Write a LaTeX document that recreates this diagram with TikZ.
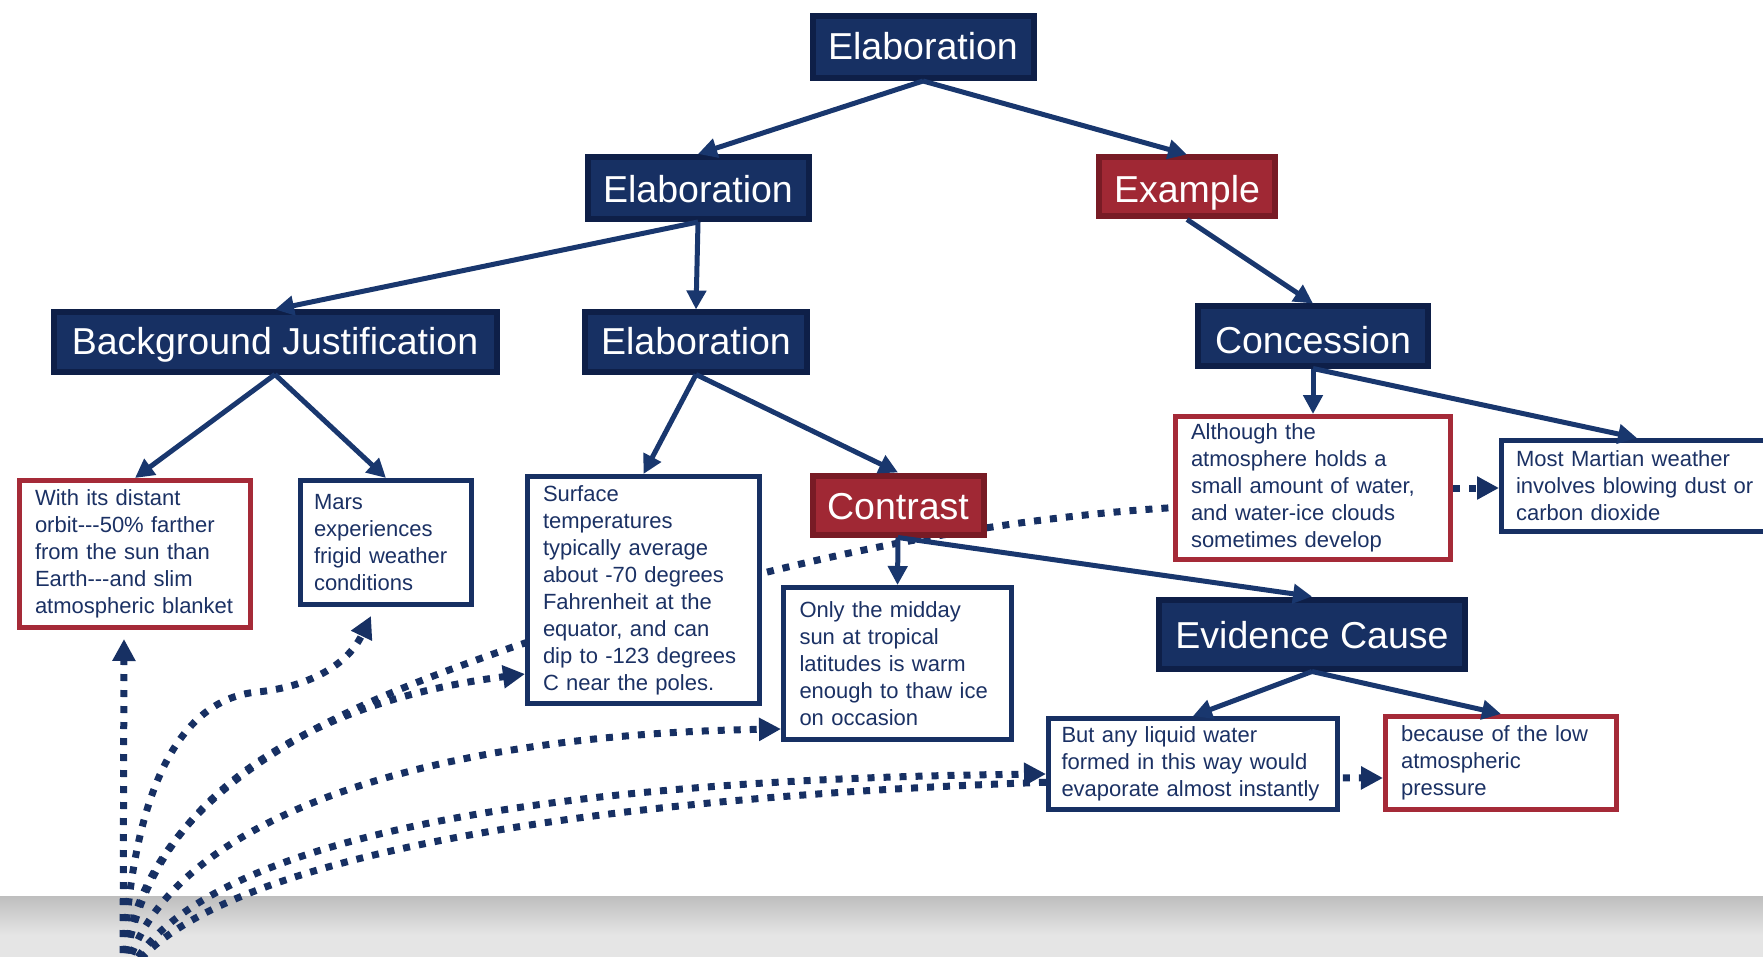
\documentclass[tikz,border=0pt]{standalone}
\usepackage{fontspec}
\setmainfont{Liberation Sans}
\usetikzlibrary{arrows.meta,calc}
\definecolor{navy}{RGB}{23,48,99}
\definecolor{navydk}{RGB}{14,31,72}
\definecolor{rust}{RGB}{160,40,52}
\definecolor{rustdk}{RGB}{120,27,37}
\definecolor{txtnavy}{RGB}{27,49,100}
\definecolor{boxred}{RGB}{165,42,56}
\definecolor{linkcol}{RGB}{25,55,110}
\definecolor{bandtop}{RGB}{190,190,190}
\definecolor{bandbot}{RGB}{229,229,229}
\pgfdeclarelayer{bg}
\pgfsetlayers{bg,main}
\newcommand\thd{-\kern0pt-\kern0pt-}
\begin{document}
\begin{tikzpicture}[x=1pt,y=-1pt,
  head/.style={draw=navydk, fill=navy, line width=6pt, text=white,
    font=\fontsize{37.5}{45}\selectfont, inner sep=0pt, text height=25pt, text depth=0pt},
  headred/.style={head, draw=rustdk, fill=rust},
  tbox/.style={draw=navy, fill=white, line width=5pt, text=txtnavy,
    font=\fontsize{22}{27}\selectfont, align=left, inner sep=4pt},
  tboxred/.style={tbox, draw=boxred},
  link/.style={draw=linkcol, line width=5pt, -{Triangle[length=19pt,width=19pt]}},
  dline/.style={draw=navy, line width=7pt, dash pattern=on 7pt off 9pt},
  dlink/.style={dline, -{Triangle[length=22pt,width=22pt]}}
]
\useasboundingbox (0,0) rectangle (1763,957);
\clip (0,0) rectangle (1763,957);

% heading nodes
\node[head, minimum width=221pt, minimum height=62pt] (r) at (923,47) {Elaboration};
\node[head, minimum width=221pt, minimum height=62pt, text height=29.5pt] (e2) at (698,188) {Elaboration};
\node[headred, minimum width=176pt, minimum height=59pt, text height=32pt] (ex) at (1187,187) {Example};
\node[head, minimum width=443pt, minimum height=59pt] (bg) at (275,342) {Background Justification};
\node[head, minimum width=222pt, minimum height=59pt] (e3) at (696,342) {Elaboration};
\node[head, minimum width=230pt, minimum height=59pt, text height=34pt] (con) at (1313,336) {Concession};
\node[headred, minimum width=171pt, minimum height=59pt, text height=29.5pt] (ctr) at (898,505) {Contrast};
\node[head, minimum width=306pt, minimum height=69pt, text height=29.5pt] (ev) at (1312,634) {Evidence Cause};

% text boxes
\node[tboxred, minimum width=231pt, minimum height=147pt, text width=200pt] (A) at (135,554)
  {With~its~distant\\orbit\thd50\%~farther\\from~the~sun~than\\Earth\thd and~slim\\atmospheric~blanket};
\node[tbox, minimum width=171pt, minimum height=124pt, text width=144pt] (B) at (386,542.5)
  {Mars\\experiences\\frigid~weather\\conditions};
\node[tbox, minimum width=232pt, minimum height=227pt, text width=201pt] (C) at (643.5,590)
  {Surface\\temperatures\\typically~average\\about~-70~degrees\\Fahrenheit~at~the\\equator,~and~can\\dip~to~-123~degrees\\C~near~the~poles.};
\node[tbox, minimum width=228pt, minimum height=152pt, text width=196pt] (D) at (897.5,663.5)
  {Only~the~midday\\sun~at~tropical\\latitudes~is~warm\\enough~to~thaw~ice\\on~occasion};
\node[tboxred, minimum width=275pt, minimum height=143pt, text width=244pt] (E) at (1313,488)
  {Although~the\\atmosphere~holds~a\\small~amount~of~water,\\and~water-ice~clouds\\sometimes~develop};
\node[tbox, minimum width=271pt, minimum height=91pt, text width=242pt] (F) at (1637,486)
  {Most~Martian~weather\\involves~blowing~dust~or\\carbon~dioxide};
\node[tbox, minimum width=289pt, minimum height=91pt, text width=263pt] (G) at (1193,764)
  {But~any~liquid~water\\formed~in~this~way~would\\evaporate~almost~instantly};
\node[tboxred, minimum width=231pt, minimum height=93pt, text width=200pt] (H) at (1501,763)
  {because~of~the~low\\atmospheric\\pressure};

\coordinate (o) at (123,985);

\begin{pgfonlayer}{bg}
  \shade[top color=bandtop, bottom color=bandbot] (0,896) rectangle (1763,935);
  \fill[bandbot] (0,935) rectangle (1763,957);
  \draw[dlink] (o) -- ($(A.south)+(-11,9)$);
  \draw[dlink] (o) .. controls (128,800) and (175,700) .. (257,692)
                   .. controls (300,688) and (345,670) .. ($(B.south)+(-15,9)$);
  \draw[dlink] (o) .. controls (135,820) and (280,705) .. ($(C.south west)+(0,-32)$);
  \draw[dline] (o) .. controls (128,780) and (370,698) .. (510,648)
                   .. controls (640,605) and (900,520) .. ($(E.west)+(30,18)$);
  \draw[dlink] (o) .. controls (150,830) and (400,735) .. ($(D.south west)+(0,-13)$);
  \draw[dlink] (o) .. controls (170,860) and (450,780) .. ($(G.west)+(0,10)$);
  \draw[dlink] (o) .. controls (175,870) and (550,775) .. ($(H.west)+(0,15)$);
\end{pgfonlayer}
\draw[dlink] (E.east) -- (F.west |- E.east);

% tree links
\draw[link] (r.south) -- (e2.north);
\draw[link] (r.south) -- (ex.north);
\draw[link] (e2.south) -- (bg.north);
\draw[link] (e2.south) -- (e3.north);
\draw[link] (ex.south) -- (con.north);
\draw[link] (bg.south) -- (A.north);
\draw[link] (bg.south) -- (B.north);
\draw[link] (e3.south) -- (C.north);
\draw[link] (e3.south) -- (ctr.north);
\draw[link] (con.south) -- (E.north);
\draw[link] (con.south) -- (F.north);
\draw[link] (ctr.south) -- (D.north);
\draw[link] (ctr.south) -- (ev.north);
\draw[link] (ev.south) -- (G.north);
\draw[link] (ev.south) -- (H.north);
\end{tikzpicture}
\end{document}
